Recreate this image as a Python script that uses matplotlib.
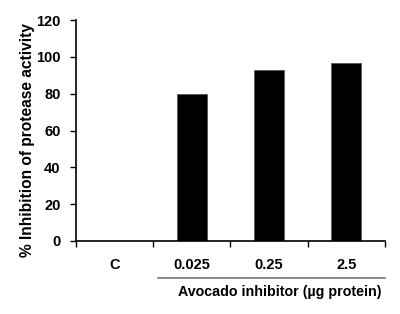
import matplotlib
matplotlib.use("Agg")
import matplotlib.pyplot as plt
from matplotlib.lines import Line2D

plt.rcParams['font.family'] = ['Liberation Sans', 'DejaVu Sans']

# data
categories = ['C', '0.025', '0.25', '2.5']
inhibition = [0, 80, 93, 96.5]
yticks = [0, 20, 40, 60, 80, 100, 120]

fig = plt.figure(figsize=(4, 3.14), dpi=100)
ax = fig.add_axes([0.19, 0.2325, 0.7725, 0.7035])

xpos = list(range(len(categories)))
ax.bar(xpos, inhibition, width=0.39, color='black', edgecolor='#555555', linewidth=0.6)

ax.set_xlim(-0.5, len(categories) - 0.5)
ax.set_ylim(0, 120)
ax.set_yticks(yticks)
ax.set_yticklabels([str(v) for v in yticks], fontsize=10.5, fontweight='bold')

# category boundaries as major ticks, labels as minor ticks
ax.set_xticks([x - 0.5 for x in xpos] + [len(categories) - 0.5])
ax.set_xticklabels([])
ax.set_xticks(xpos, minor=True)
ax.set_xticklabels(categories, minor=True, fontsize=10.5, fontweight='bold')
ax.tick_params(axis='x', which='minor', length=0, pad=12)
ax.tick_params(axis='x', which='major', length=4, width=1, direction='out')
ax.tick_params(axis='y', length=4, width=1, direction='out', pad=7)

for s in ['top', 'right']:
    ax.spines[s].set_visible(False)
ax.spines['left'].set_linewidth(1.2)
ax.spines['bottom'].set_linewidth(1.2)

ax.set_ylabel('% Inhibition of protease activity', fontsize=11.2, fontweight='bold',
              va='center')
ax.yaxis.set_label_coords(-0.158, 0.455)

# group line and label under the treatment categories
ax.add_line(Line2D([0.265, 1.0], [-0.167, -0.167], transform=ax.transAxes,
                   color='#777777', linewidth=1.2, clip_on=False))
ax.text(0.66, -0.232, 'Avocado inhibitor (\u00b5g protein)', transform=ax.transAxes,
        ha='center', va='center', fontsize=10.3, fontweight='bold')

fig.savefig('out.png', dpi=100)
